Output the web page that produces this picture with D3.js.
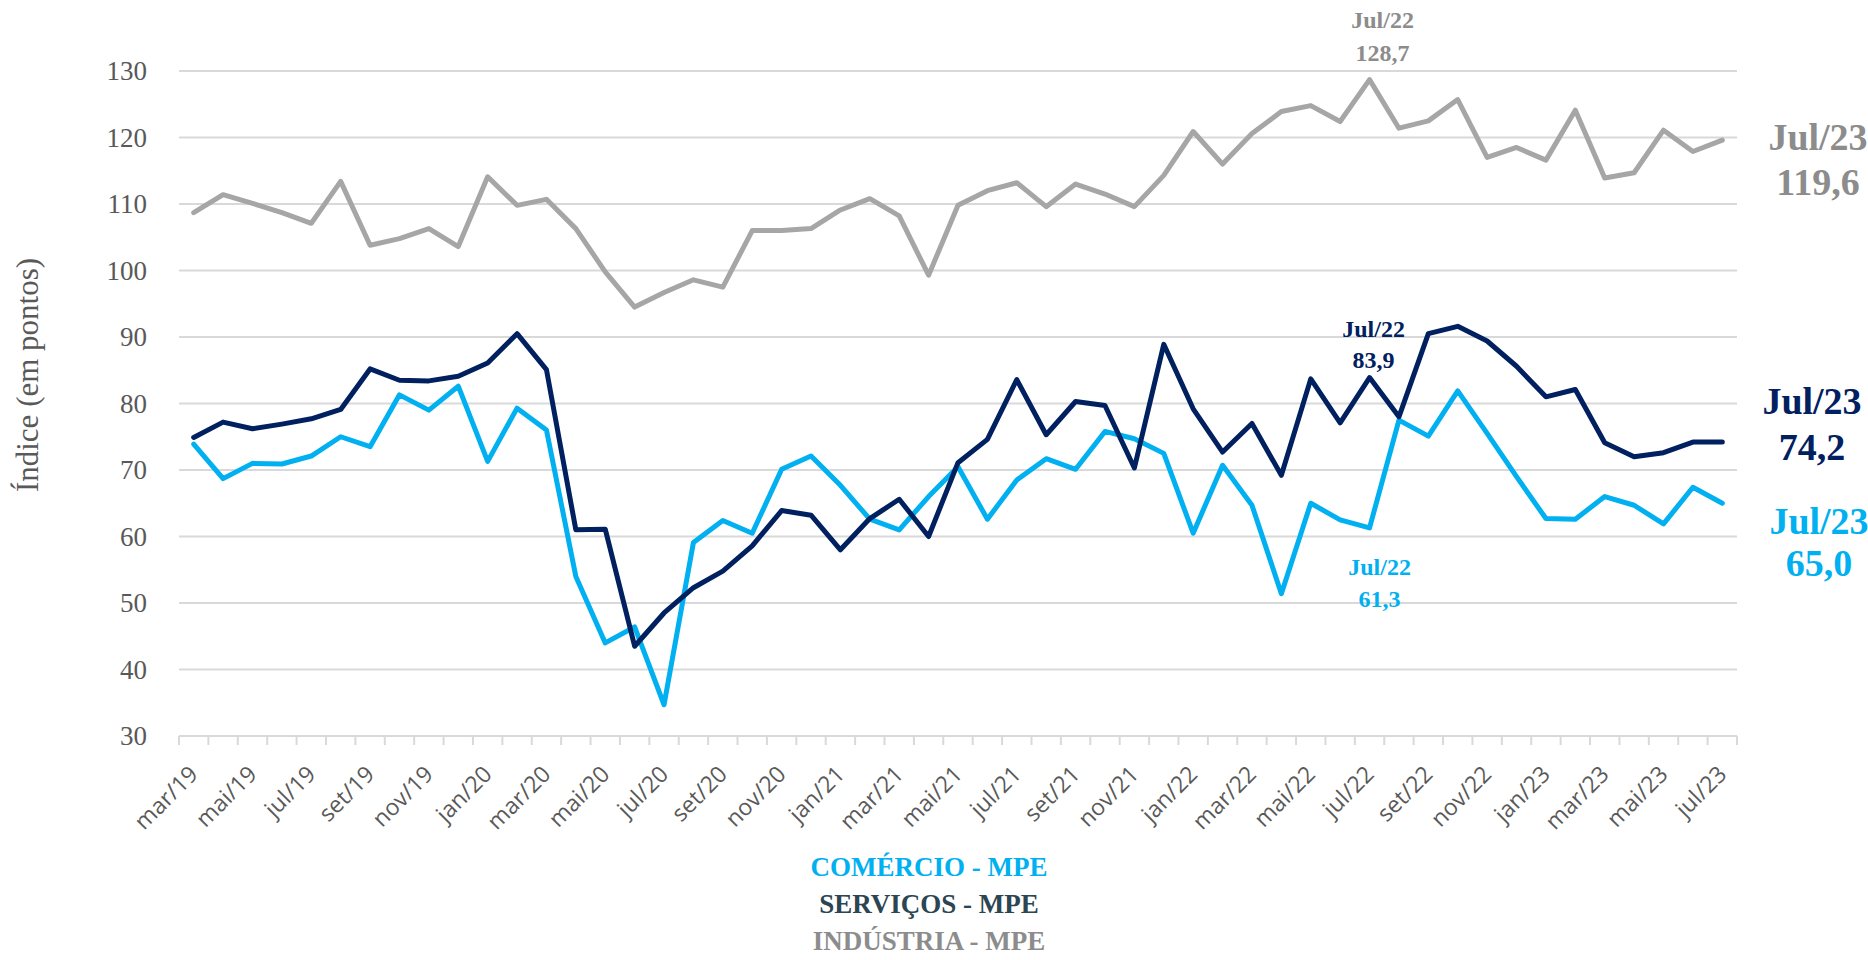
<!DOCTYPE html>
<html>
<head>
<meta charset="utf-8">
<script src="https://cdn.jsdelivr.net/npm/d3@7"></script>
<style>
  html, body { margin: 0; padding: 0; background: #fff; }
  svg { display: block; }
</style>
</head>
<body>
<div id="chart"></div>
<script>
// months mar/19 .. jul/23
const monthNames = ["jan", "fev", "mar", "abr", "mai", "jun", "jul", "ago", "set", "out", "nov", "dez"];
const months = [];
for (let y = 19, m = 2; !(y === 23 && m === 7); ) {
  months.push(`${monthNames[m]}/${y}`);
  m++;
  if (m === 12) { m = 0; y++; }
}

const industria = [108.7, 111.4, 110.1, 108.7, 107.1, 113.4, 103.8, 104.8, 106.3, 103.6,
  114.1, 109.8, 110.7, 106.3, 99.8, 94.5, 96.7, 98.6, 97.5, 106.0,
  106.0, 106.3, 109.1, 110.8, 108.2, 99.3, 109.8, 112.0, 113.2, 109.6,
  113.0, 111.5, 109.6, 114.3, 120.9, 116.0, 120.6, 123.9, 124.8, 122.4,
  128.7, 121.4, 122.5, 125.7, 117.0, 118.5, 116.6, 124.1, 113.9, 114.7,
  121.1, 117.9, 119.6];

const servicos = [74.9, 77.2, 76.2, 76.9, 77.7, 79.1, 85.2, 83.5, 83.4, 84.1,
  86.1, 90.5, 85.1, 61.0, 61.1, 43.5, 48.5, 52.3, 54.8, 58.6,
  63.9, 63.2, 58.0, 62.7, 65.6, 60.0, 71.1, 74.6, 83.6, 75.3,
  80.3, 79.7, 70.3, 88.9, 79.2, 72.7, 77.0, 69.2, 83.7, 77.1,
  83.9, 78.0, 90.5, 91.6, 89.4, 85.6, 81.0, 82.1, 74.1, 72.0,
  72.6, 74.2, 74.2];

const comercio = [73.9, 68.7, 71.0, 70.9, 72.1, 75.0, 73.5, 81.3, 79.0, 82.6,
  71.3, 79.3, 76.0, 54.0, 44.0, 46.4, 34.7, 59.1, 62.4, 60.5,
  70.1, 72.1, 67.7, 62.6, 61.0, 66.0, 70.5, 62.6, 68.5, 71.7,
  70.1, 75.8, 74.7, 72.5, 60.5, 70.7, 64.7, 51.4, 65.0, 62.5,
  61.3, 77.5, 75.1, 81.9, 75.5, 69.0, 62.7, 62.6, 66.0, 64.7,
  61.9, 67.4, 65.0];

const yTicks = [30, 40, 50, 60, 70, 80, 90, 100, 110, 120, 130];
const legendNames = ["COMÉRCIO - MPE", "SERVIÇOS - MPE", "INDÚSTRIA - MPE"];

const W = 1868, H = 960;
const serif = "'Liberation Serif', 'DejaVu Serif', serif";
const sans = "'Open Sans', 'Noto Sans', sans-serif";
const colors = { ind: "#A6A6A6", serv: "#002060", com: "#00B0F0" };

const svg = d3.select("#chart").append("svg")
  .attr("width", W).attr("height", H);

const x = d3.scaleBand().domain(months).range([179, 1737]);
const y = d3.scaleLinear().domain([30, 130]).range([736, 71]);
const cx = d => x(d) + x.bandwidth() / 2;

// grid
svg.append("g").selectAll("line")
  .data(yTicks)
  .join("line")
  .attr("x1", 179).attr("x2", 1737)
  .attr("y1", d => y(d)).attr("y2", d => y(d))
  .attr("stroke", "#d9d9d9")
  .attr("stroke-width", 2);

// y labels
svg.append("g").selectAll("text")
  .data(yTicks)
  .join("text")
  .attr("x", 147)
  .attr("y", d => y(d))
  .attr("dy", "0.35em")
  .attr("text-anchor", "end")
  .style("font-family", serif)
  .style("font-size", "27px")
  .style("fill", "#595959")
  .text(d => d);

// y title
svg.append("text")
  .attr("transform", "translate(38,375) rotate(-90)")
  .attr("text-anchor", "middle")
  .style("font-family", serif)
  .style("font-size", "31px")
  .style("fill", "#595959")
  .text("Índice (em pontos)");

// x axis ticks at band edges
const edges = months.map(m => x(m)).concat([x.range()[1]]);
svg.append("g").selectAll("line")
  .data(edges)
  .join("line")
  .attr("x1", d => d).attr("x2", d => d)
  .attr("y1", 736).attr("y2", 745)
  .attr("stroke", "#d9d9d9")
  .attr("stroke-width", 2);

// x labels (every other month)
svg.append("g").selectAll("text")
  .data(months.filter((m, i) => i % 2 === 0))
  .join("text")
  .attr("transform", d => `translate(${cx(d)},${770}) rotate(-45)`)
  .attr("text-anchor", "end")
  .attr("dy", "0.35em")
  .style("font-family", sans)
  .style("font-size", "23px")
  .style("fill", "#595959")
  .text(d => d);

// lines
const line = vals => d3.line()
  .x((d, i) => cx(months[i]))
  .y(d => y(d))(vals);

[[industria, colors.ind], [comercio, colors.com], [servicos, colors.serv]].forEach(([vals, c]) => {
  svg.append("path")
    .attr("d", line(vals))
    .attr("fill", "none")
    .attr("stroke", c)
    .attr("stroke-width", 5)
    .attr("stroke-linejoin", "round")
    .attr("stroke-linecap", "round");
});

// annotations
function note(lines, xPos, yPos, size, color, gap) {
  lines.forEach((t, i) => {
    svg.append("text")
      .attr("x", xPos)
      .attr("y", yPos + i * gap)
      .attr("dy", "0.35em")
      .attr("text-anchor", "middle")
      .style("font-family", serif)
      .style("font-size", size + "px")
      .style("font-weight", 700)
      .style("fill", color)
      .text(t);
  });
}
const iJul22 = months.indexOf("jul/22");
const last = months.length - 1;
const fmt = v => d3.format(".1f")(v).replace(".", ",");

note(["Jul/22", fmt(industria[iJul22])], cx(months[iJul22]) + 13, 20, 24, "#8C8C8C", 33);
note(["Jul/22", fmt(servicos[iJul22])], cx(months[iJul22]) + 4, 329, 24, colors.serv, 31);
note(["Jul/22", fmt(comercio[iJul22])], cx(months[iJul22]) + 10, 567, 24, colors.com, 32);

note(["Jul/23", fmt(industria[last])], 1818, 137, 38, "#8C8C8C", 45);
note(["Jul/23", fmt(servicos[last])], 1812, 401, 38, colors.serv, 46);
note(["Jul/23", fmt(comercio[last])], 1819, 521, 38, colors.com, 42);

// legend
const legendColors = [colors.com, "#2B4552", "#8C8C8C"];
svg.append("g").selectAll("text")
  .data(legendNames)
  .join("text")
  .attr("x", 929)
  .attr("y", (d, i) => 867 + i * 37)
  .attr("dy", "0.35em")
  .attr("text-anchor", "middle")
  .style("font-family", serif)
  .style("font-size", "27px")
  .style("font-weight", 700)
  .style("fill", (d, i) => legendColors[i])
  .text(d => d);
</script>
</body>
</html>
